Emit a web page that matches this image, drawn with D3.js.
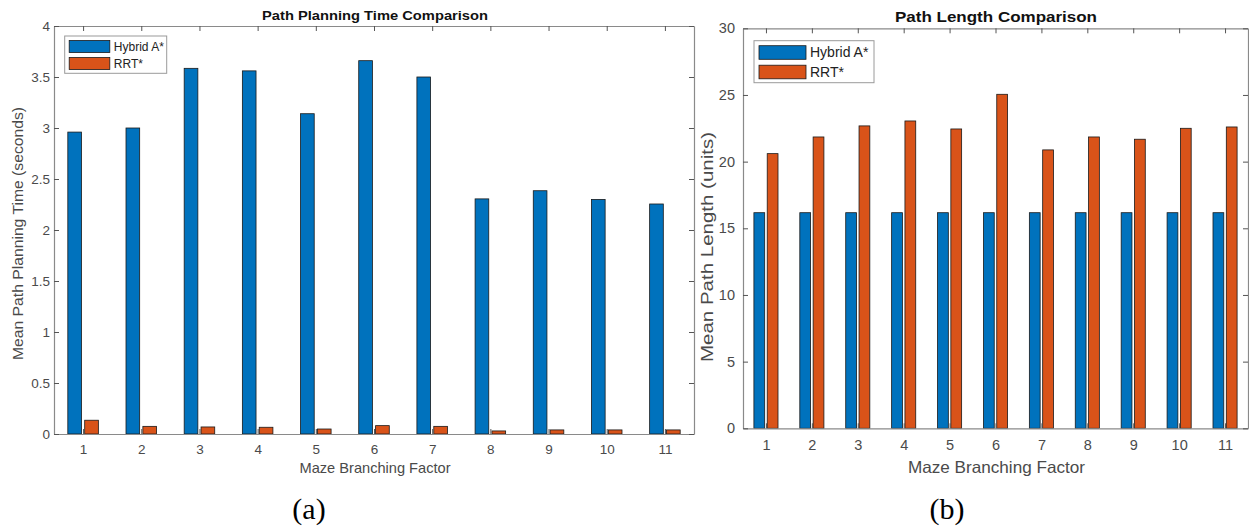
<!DOCTYPE html>
<html>
<head>
<meta charset="utf-8">
<script src="https://cdn.jsdelivr.net/npm/d3@7"></script>
<style>
  body { margin: 0; background: #fff; }
  text { font-family: "Liberation Sans", Arial, sans-serif; }
</style>
</head>
<body>
<svg id="fig" width="1249" height="531"></svg>
<script>
// data
var factors = [1, 2, 3, 4, 5, 6, 7, 8, 9, 10, 11];
var seriesNames = ["Hybrid A*", "RRT*"];
var seriesColors = ["#0072BD", "#D95319"];

var timeHybrid = [2.96, 3.0, 3.585, 3.56, 3.14, 3.66, 3.50, 2.305, 2.385, 2.30, 2.255];
var timeRRT = [0.135, 0.075, 0.069, 0.066, 0.049, 0.082, 0.075, 0.03, 0.04, 0.04, 0.04];
var timeTicks = [0, 0.5, 1, 1.5, 2, 2.5, 3, 3.5, 4];

var lengthHybrid = [16.17, 16.17, 16.17, 16.17, 16.17, 16.17, 16.17, 16.17, 16.17, 16.17, 16.17];
var lengthRRT = [20.6, 21.85, 22.68, 23.05, 22.45, 25.05, 20.88, 21.85, 21.68, 22.5, 22.6];
var lengthTicks = [0, 5, 10, 15, 20, 25, 30];

var svg = d3.select("#fig");

var drawPanel = function (opt) {
  var g = svg.append("g");
  var x = d3.scaleLinear().domain([0.5, 11.5]).range([opt.left, opt.right]);
  var y = d3.scaleLinear().domain([0, opt.yMax]).range([opt.bottom, opt.top]);
  var unit = x(2) - x(1);
  var barW = 0.235 * unit;
  var offsets = [-0.145, 0.145];

  // bars
  [opt.a, opt.b].forEach(function (vals, s) {
    g.selectAll(null)
      .data(vals)
      .enter().append("rect")
      .attr("x", function (d, i) { return x(factors[i] + offsets[s]) - barW / 2; })
      .attr("y", function (d) { return y(d); })
      .attr("width", barW)
      .attr("height", function (d) { return y(0) - y(d); })
      .attr("fill", seriesColors[s])
      .attr("stroke", "#1a1a1a")
      .attr("stroke-width", 0.8);
  });

  // axes, ticks inward like matlab box
  var fmt = function (d) { return String(d); };
  var ax = [
    d3.axisBottom(x).tickValues(factors).tickFormat(fmt).tickSizeInner(-5).tickSizeOuter(0).tickPadding(opt.xPad),
    d3.axisTop(x).tickValues(factors).tickFormat("").tickSizeInner(-5).tickSizeOuter(0),
    d3.axisLeft(y).tickValues(opt.ticks).tickFormat(fmt).tickSizeInner(-5).tickSizeOuter(0).tickPadding(opt.yPad),
    d3.axisRight(y).tickValues(opt.ticks).tickFormat("").tickSizeInner(-5).tickSizeOuter(0)
  ];
  var shifts = [[0, opt.bottom], [0, opt.top], [opt.left, 0], [opt.right, 0]];
  ax.forEach(function (a, i) {
    var ga = g.append("g")
      .attr("transform", "translate(" + shifts[i][0] + "," + shifts[i][1] + ")")
      .call(a);
    ga.select(".domain").attr("stroke", "#8a8a8a").attr("stroke-width", 1.2);
    ga.selectAll(".tick line").attr("stroke", "#555");
    ga.selectAll(".tick text")
      .attr("fill", "#4a4a4a")
      .style("font-size", opt.tickFont + "px")
      .style("font-family", "'Liberation Sans', Arial, sans-serif");
  });

  // title
  g.append("text")
    .attr("x", opt.titleX).attr("y", opt.titleY)
    .attr("text-anchor", "middle")
    .attr("font-weight", "bold")
    .attr("fill", "#111")
    .style("font-size", opt.titleFont + "px")
    .attr("textLength", opt.titleLen)
    .attr("lengthAdjust", "spacingAndGlyphs")
    .text(opt.title);

  // axis labels
  g.append("text")
    .attr("x", opt.xLabX).attr("y", opt.xLabY)
    .attr("text-anchor", "middle")
    .attr("fill", "#4a4a4a")
    .style("font-size", opt.labFont + "px")
    .attr("textLength", opt.xLabLen)
    .attr("lengthAdjust", "spacingAndGlyphs")
    .text("Maze Branching Factor");

  g.append("text")
    .attr("transform", "translate(" + opt.yLabX + "," + opt.yLabY + ") rotate(-90)")
    .attr("text-anchor", "middle")
    .attr("fill", "#4a4a4a")
    .style("font-size", opt.labFont + "px")
    .attr("textLength", opt.yLabLen)
    .attr("lengthAdjust", "spacingAndGlyphs")
    .text(opt.yLabel);

  // legend
  var L = opt.legend;
  var lg = g.append("g").attr("transform", "translate(" + (opt.left + L.dx) + "," + (opt.top + L.dy) + ")");
  lg.append("rect")
    .attr("width", L.w).attr("height", L.h)
    .attr("fill", "#fff").attr("stroke", "#9a9a9a").attr("stroke-width", 1);
  seriesNames.forEach(function (name, s) {
    lg.append("rect")
      .attr("x", L.pad).attr("y", L.pad + s * L.row)
      .attr("width", L.sw).attr("height", L.sh)
      .attr("fill", seriesColors[s]).attr("stroke", "#1a1a1a").attr("stroke-width", 0.8);
    lg.append("text")
      .attr("x", L.pad + L.sw + 4).attr("y", L.pad + s * L.row + L.sh / 2)
      .attr("dy", "0.35em")
      .attr("fill", "#222")
      .style("font-size", L.font + "px")
      .text(name);
  });

  // caption
  svg.append("text")
    .attr("x", opt.capX).attr("y", 519)
    .attr("text-anchor", "middle")
    .style("font-family", "'Liberation Serif', 'Times New Roman', serif")
    .style("font-size", "30px")
    .attr("fill", "#000")
    .text(opt.caption);
};

drawPanel({
  left: 54, right: 694, top: 26, bottom: 434,
  yMax: 4, ticks: timeTicks, a: timeHybrid, b: timeRRT,
  xPad: 10, yPad: 4, tickFont: 13.5,
  title: "Path Planning Time Comparison", titleX: 375, titleY: 20, titleFont: 13.5, titleLen: 226,
  labFont: 14.5, xLabX: 375, xLabY: 473, xLabLen: 151,
  yLabel: "Mean Path Planning Time (seconds)", yLabX: 22.5, yLabY: 233.5, yLabLen: 253,
  legend: { dx: 10.7, dy: 10, w: 102, h: 37.3, pad: 4.5, row: 17, sw: 40.6, sh: 12, font: 12 },
  caption: "(a)", capX: 309
});

drawPanel({
  left: 743, right: 1248, top: 28.3, bottom: 428.3,
  yMax: 30, ticks: lengthTicks, a: lengthHybrid, b: lengthRRT,
  xPad: 11, yPad: 8, tickFont: 14.5,
  title: "Path Length Comparison", titleX: 996, titleY: 22, titleFont: 15, titleLen: 202,
  labFont: 16.5, xLabX: 996.5, xLabY: 473, xLabLen: 177,
  yLabel: "Mean Path Length (units)", yLabX: 713, yLabY: 247, yLabLen: 230,
  legend: { dx: 11, dy: 12.4, w: 120, h: 42, pad: 5, row: 19.5, sw: 47, sh: 13.6, font: 14 },
  caption: "(b)", capX: 947
});
</script>
</body>
</html>
